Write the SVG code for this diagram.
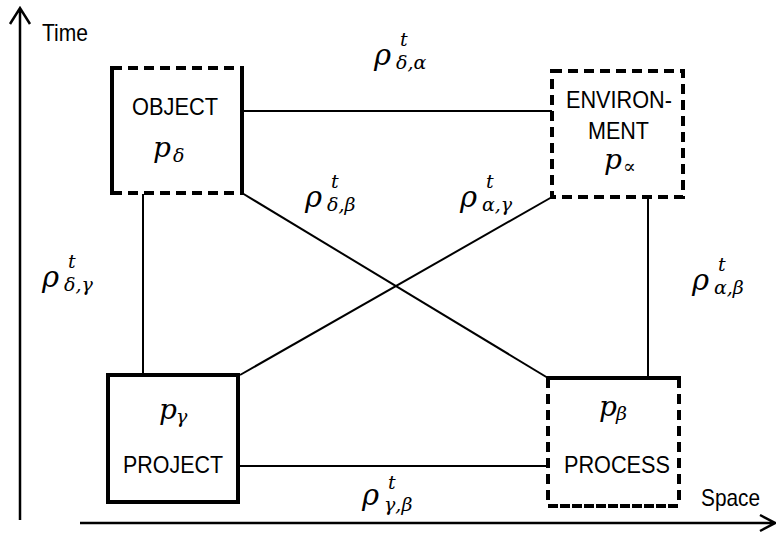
<svg xmlns="http://www.w3.org/2000/svg" width="776" height="533" viewBox="0 0 776 533">
<style>
.b{stroke:#000;stroke-width:4;fill:none}
.d{stroke-dasharray:10 6}
.c{stroke:#000;stroke-width:2;fill:none}
.ax{stroke:#000;stroke-width:2.5;fill:none}
.s{font-family:"Liberation Sans",Arial,sans-serif;font-size:24px;fill:#000}
.m{font-family:"DejaVu Serif","Liberation Serif",serif;font-style:italic;fill:#000;font-size:29px}
.p{font-size:28px}
.sub{font-size:19px}
.sup{font-size:19px}
</style>
<rect width="776" height="533" fill="#fff"/>
<g id="axes">
<path class="ax" d="M20 8V520M10 24L20 8L30 24"/>
<path class="ax" d="M80 523H775M760 515L775 523L760 531"/>
<text class="s" x="42" y="41" textLength="46" lengthAdjust="spacingAndGlyphs">Time</text>
<text class="s" x="701" y="506" textLength="59" lengthAdjust="spacingAndGlyphs">Space</text>
</g>
<g id="connectors">
<path class="c" d="M242 111H552"/>
<path class="c" d="M143 194V375"/>
<path class="c" d="M648 197V378"/>
<path class="c" d="M238 466H548"/>
<path class="c" d="M242 193L548 378"/>
<path class="c" d="M552 197L240 375"/>
</g>
<g id="object">
<path class="b d" d="M112 68H242M112 193H242"/>
<path class="b" d="M112 66V195M242 66V195"/>
<text class="s" x="132" y="115" textLength="86" lengthAdjust="spacingAndGlyphs">OBJECT</text>
<text class="m p" x="153" y="157">p</text>
<text class="m sub" x="173" y="162">δ</text>
</g>
<g id="environment">
<rect class="b d" x="552" y="71" width="131" height="126"/>
<text class="s" x="566" y="108" textLength="106" lengthAdjust="spacingAndGlyphs">ENVIRON-</text>
<text class="s" x="588" y="139" textLength="61" lengthAdjust="spacingAndGlyphs">MENT</text>
<text class="m p" x="604" y="169">p</text>
<text class="m sup" x="623" y="173">∝</text>
</g>
<g id="project">
<rect class="b" x="108" y="375" width="130" height="127"/>
<text class="s" x="123" y="473" textLength="100" lengthAdjust="spacingAndGlyphs">PROJECT</text>
<text class="m p" x="159" y="419">p</text>
<text class="m sub" x="176" y="423">γ</text>
</g>
<g id="process">
<path class="b" d="M546 378H681"/>
<path class="b d" d="M548 378V506M679 378V506"/>
<path class="b" style="stroke-dasharray:10 2" d="M548 506H679"/>
<text class="s" x="564" y="473" textLength="106" lengthAdjust="spacingAndGlyphs">PROCESS</text>
<text class="m p" x="599" y="416">p</text>
<text class="m sub" x="616" y="420">β</text>
</g>
<g id="labels">
<text class="m" x="374" y="65">ρ</text><text class="m sup" x="400" y="46">t</text><text class="m sub" x="396" y="69">δ,α</text>
<text class="m" x="305" y="207">ρ</text><text class="m sup" x="331" y="188">t</text><text class="m sub" x="327" y="211">δ,β</text>
<text class="m" x="460" y="207">ρ</text><text class="m sup" x="486" y="188">t</text><text class="m sub" x="482" y="211">α,γ</text>
<text class="m" x="42" y="287">ρ</text><text class="m sup" x="68" y="268">t</text><text class="m sub" x="64" y="291">δ,γ</text>
<text class="m" x="692" y="290">ρ</text><text class="m sup" x="718" y="271">t</text><text class="m sub" x="714" y="294">α,β</text>
<text class="m" x="362" y="505">ρ</text><text class="m sup" x="388" y="489">t</text><text class="m sub" x="384" y="511">γ,β</text>
</g>
</svg>
